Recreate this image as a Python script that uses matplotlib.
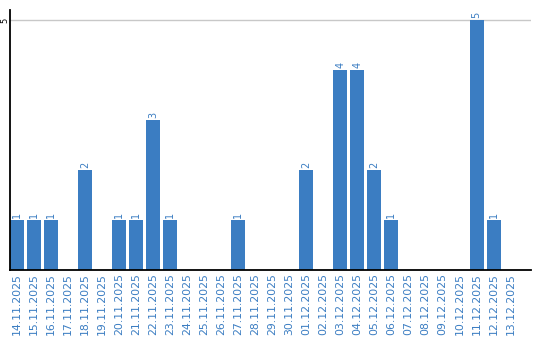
import matplotlib
matplotlib.use("Agg")
import matplotlib.pyplot as plt
import numpy as np

dates = ['14.11.2025', '15.11.2025', '16.11.2025', '17.11.2025', '18.11.2025',
         '19.11.2025', '20.11.2025', '21.11.2025', '22.11.2025', '23.11.2025',
         '24.11.2025', '25.11.2025', '26.11.2025', '27.11.2025', '28.11.2025',
         '29.11.2025', '30.11.2025', '01.12.2025', '02.12.2025', '03.12.2025',
         '04.12.2025', '05.12.2025', '06.12.2025', '07.12.2025', '08.12.2025',
         '09.12.2025', '10.12.2025', '11.12.2025', '12.12.2025', '13.12.2025']
counts = [1, 1, 1, 0, 2, 0, 1, 1, 3, 1,
          0, 0, 0, 1, 0, 0, 0, 2, 0, 4,
          4, 2, 1, 0, 0, 0, 0, 5, 1, 0]
y_ticks = [5]

blue = '#3b7dc2'

fig = plt.figure(figsize=(5.4, 3.4), dpi=100)
ax = fig.add_axes([10 / 540, 70 / 340, 521 / 540, 260 / 340])

x = np.arange(len(dates))
bars = ax.bar(x, counts, width=14 / 17, color=blue, zorder=2)

# value labels above non-empty bars
for xi, v in zip(x, counts):
    if v > 0:
        ax.text(xi, v + 0.04, str(v), rotation=90, ha='center', va='bottom',
                color=blue, fontsize=7, zorder=3)

ax.set_xlim(-7 / 17, 30.2)
ax.set_ylim(0, 5.2)
ax.set_xticks(x)
ax.set_xticklabels(dates, rotation=90, color=blue, fontsize=7.8)
ax.set_yticks(y_ticks)
ax.set_yticklabels([str(t) for t in y_ticks], rotation=90, va='center',
                   ha='right', fontsize=6)
ax.tick_params(axis='both', length=0, pad=2)
ax.tick_params(axis='y', pad=0.5)
ax.yaxis.grid(True, color='#c8c8c8', linewidth=1, zorder=0)

for side in ['top', 'right']:
    ax.spines[side].set_visible(False)
ax.spines['left'].set_linewidth(1.3)
ax.spines['bottom'].set_linewidth(1.3)

fig.savefig('out.png', dpi=100)
